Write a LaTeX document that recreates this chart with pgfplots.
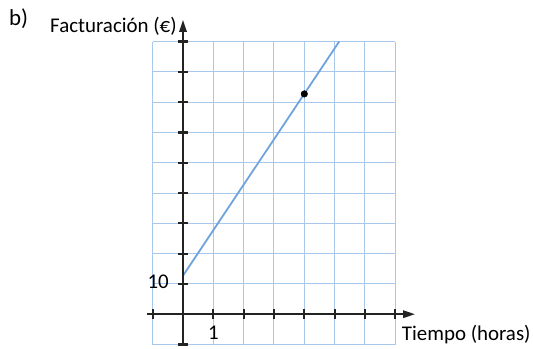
\documentclass[border=0pt]{standalone}
\usepackage{pgfplots}
\pgfplotsset{compat=1.18}
\usepackage{fontspec}
\setmainfont{Carlito}
\usetikzlibrary{arrows.meta}
\definecolor{gridblue}{RGB}{168,200,236}
\definecolor{lineblue}{RGB}{111,163,220}
\definecolor{axisdark}{RGB}{35,35,35}
\begin{document}
\begin{tikzpicture}
\path[use as bounding box] (0,0) rectangle (533bp,349bp);
\begin{axis}[
  at={(146.6bp,4.5bp)}, anchor=south west, scale only axis,
  width=268.4bp, height=324.5bp,
  xmin=-1.2, xmax=7.65, ymin=-10, ymax=97.1,
  axis lines=middle, axis on top,
  axis line style={axisdark, line width=1.8bp, -{Triangle[length=12bp,width=7.5bp]}},
  xtick={-1,0,1,2,3,4,5,6,7}, ytick={-10,0,10,20,30,40,50,60,70,80,90},
  xticklabels={{},{},1,{},{},{},{},{},{}},
  yticklabels={{},{},10,{},{},{},{},{},{},{},{}},
  hide obscured x ticks=false, hide obscured y ticks=false,
  tick align=center, major tick length=10bp,
  tick style={axisdark, line width=2.2bp},
  /pgf/number format/assume math mode=true,
  tick label style={font=\fontsize{21}{25}\selectfont, inner sep=0pt},
  xticklabel style={anchor=north, yshift=-7bp},
  yticklabel style={anchor=east, xshift=-9bp, yshift=2bp},
  clip=false,
]
\pgfplotsinvokeforeach{-1,0,1,2,3,4,5,6,7}{
  \draw[gridblue, line width=1bp] (axis cs:#1,-10) -- (axis cs:#1,90);
}
\pgfplotsinvokeforeach{-10,0,10,20,30,40,50,60,70,80,90}{
  \draw[gridblue, line width=1bp] (axis cs:-1,#1) -- (axis cs:7,#1);
}
\addplot[lineblue, line width=1.8bp] coordinates {(0,12.7) (5.15,90)};
\addplot[only marks, mark=*, mark size=3.3bp, black] coordinates {(4,72.7)};
\end{axis}
\node[anchor=base west, inner sep=0pt, font=\fontsize{23}{27}\selectfont] at (9bp,323bp) {b)};
\node[anchor=base west, inner sep=0pt, font=\fontsize{21}{25}\selectfont] at (50bp,316.7bp) {Facturación (€)};
\node[anchor=base west, inner sep=0pt, font=\fontsize{21}{25}\selectfont] at (401.7bp,8.3bp) {Tiempo (horas)};
\end{tikzpicture}
\end{document}
